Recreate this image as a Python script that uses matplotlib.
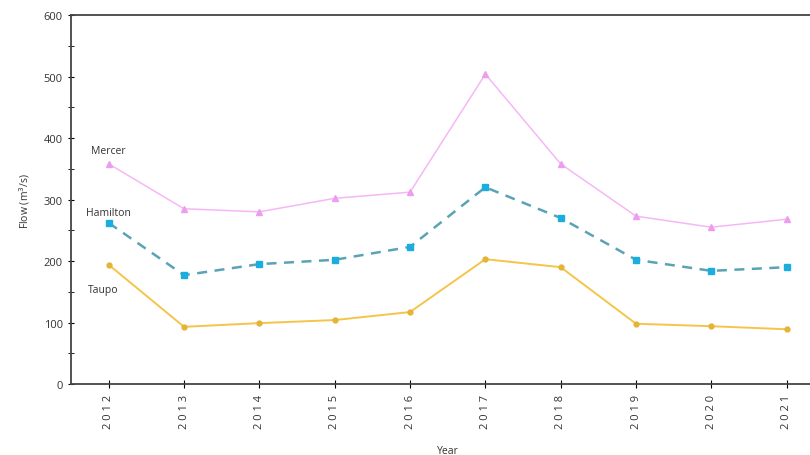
import matplotlib.pyplot as plt
from matplotlib.ticker import MultipleLocator

years = [2012, 2013, 2014, 2015, 2016, 2017, 2018, 2019, 2020, 2021]
mercer = [358, 285, 280, 302, 312, 504, 358, 273, 255, 268]
hamilton = [262, 177, 195, 202, 223, 320, 270, 202, 184, 190]
taupo = [194, 93, 99, 104, 117, 203, 190, 98, 94, 89]

plt.rcParams['font.family'] = ['Open Sans', 'DejaVu Sans']

fig = plt.figure(figsize=(8.1, 4.56), dpi=100)
ax = fig.add_axes([0.0877, 0.1557, 0.93, 0.809])

ax.plot(years, mercer, c='#f5b8f5', lw=1.1, marker='^', ms=4, mfc='#ee9cee', mec='#ee9cee')
ax.plot(years, hamilton, c='#5aa3b5', lw=1.8, ls=(0, (4, 3)), marker='s', ms=5, mfc='#1aaee0', mec='#1aaee0')
ax.plot(years, taupo, c='#f5c54a', lw=1.4, marker='o', ms=3.5, mfc='#e5b335', mec='#e5b335')

ax.annotate('Mercer', xy=(2012, 358), xytext=(0, 8), textcoords='offset points', ha='center', fontsize=7.5, color='#333333')
ax.annotate('Hamilton', xy=(2012, 262), xytext=(0, 6), textcoords='offset points', ha='center', fontsize=7.5, color='#333333')
ax.annotate('Taupo', xy=(2012, 194), xytext=(-4, -20), textcoords='offset points', ha='center', fontsize=7.5, color='#333333')

ax.set_xlim(2011.5, 2021.5)
ax.set_ylim(0, 600)
ax.set_xticks(years)
ax.set_xticklabels([' '.join(str(y)) for y in years], rotation=90, fontsize=8, color='#333333')
ax.yaxis.set_major_locator(MultipleLocator(100))
ax.yaxis.set_minor_locator(MultipleLocator(50))
ax.tick_params(axis='y', labelsize=8, labelcolor='#333333', direction='inout', length=5)
ax.tick_params(axis='y', which='minor', direction='inout', length=4)
ax.tick_params(axis='x', direction='inout', length=6, pad=4)
ax.spines['right'].set_visible(False)
for s in ['top', 'left', 'bottom']:
    ax.spines[s].set_color('#444444')
    ax.spines[s].set_linewidth(1.3)

ax.set_ylabel('Flow (m$^3$/s)', fontsize=7.5, color='#333333', labelpad=8)
ax.set_xlabel('Year', fontsize=7.5, color='#333333', labelpad=12)

fig.savefig('out.png', dpi=100)
